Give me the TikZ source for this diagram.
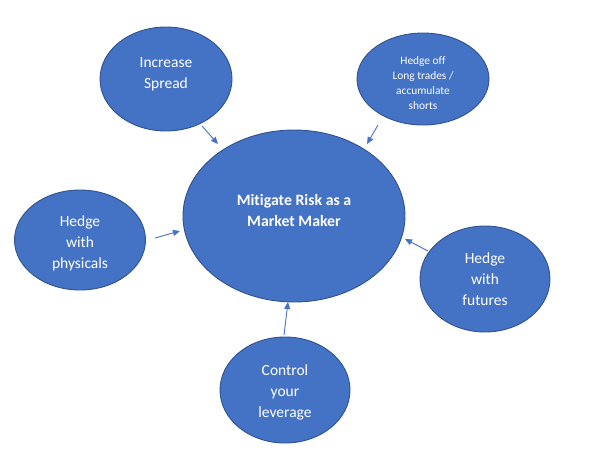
\documentclass[tikz,border=0pt]{standalone}
\usepackage{fontspec}
\setmainfont{Carlito}[Ligatures=NoCommon]
\usetikzlibrary{shapes.geometric,arrows.meta}
\definecolor{bfill}{HTML}{4472C4}
\definecolor{bline}{HTML}{2F528F}
\tikzset{
  bub/.style={ellipse, draw=bline, line width=0.9pt, fill=bfill, inner sep=0pt},
  txt/.style={text=white, align=center, inner sep=0pt},
  small/.style={font=\fontsize{11.4}{15}\selectfont},
  big/.style={font=\fontsize{15.5}{21}\selectfont},
  arr/.style={draw=bfill, line width=0.9pt, -{Triangle[length=7pt,width=6pt]}}
}
\begin{document}
\begin{tikzpicture}[x=1pt,y=-1pt]
\useasboundingbox (0,0) rectangle (590,456);
\node[bub, minimum width=222pt, minimum height=172pt] (main) at (294,216) {};
\node[txt, font=\fontsize{15.8}{21}\selectfont\bfseries] (maintxt) at (294,211) {Mitigate Risk as a\\Market Maker};
\node[bub, minimum width=132pt, minimum height=104pt] (inc) at (166,79) {};
\node[txt, big] (inctxt) at (166,74) {Increase\\Spread};
\node[bub, minimum width=132pt, minimum height=92pt] (off) at (423,79) {};
\node[txt, small] (offtxt) at (423,83) {Hedge off\\Long trades /\\accumulate\\shorts};
\node[bub, minimum width=131pt, minimum height=100pt] (phy) at (80,240) {};
\node[txt, big] (phytxt) at (80,243) {Hedge\\with\\physicals};
\node[bub, minimum width=130pt, minimum height=106pt] (fut) at (485,279) {};
\node[txt, big] (futtxt) at (485,279.5) {Hedge\\with\\futures};
\node[bub, minimum width=130pt, minimum height=106pt] (lev) at (285,390) {};
\node[txt, big] (levtxt) at (285,392) {Control\\your\\leverage};
\coordinate (incS) at (202,126); \coordinate (incE) at (218,144);
\coordinate (offS) at (378,125); \coordinate (offE) at (367,144);
\coordinate (phyS) at (155,238); \coordinate (phyE) at (180,231);
\coordinate (futS) at (428,251); \coordinate (futE) at (405,239);
\coordinate (levS) at (284,335); \coordinate (levE) at (288,302);
\draw[arr] (incS) -- (incE);
\draw[arr] (offS) -- (offE);
\draw[arr] (phyS) -- (phyE);
\draw[arr] (futS) -- (futE);
\draw[arr] (levS) -- (levE);
\end{tikzpicture}
\end{document}
